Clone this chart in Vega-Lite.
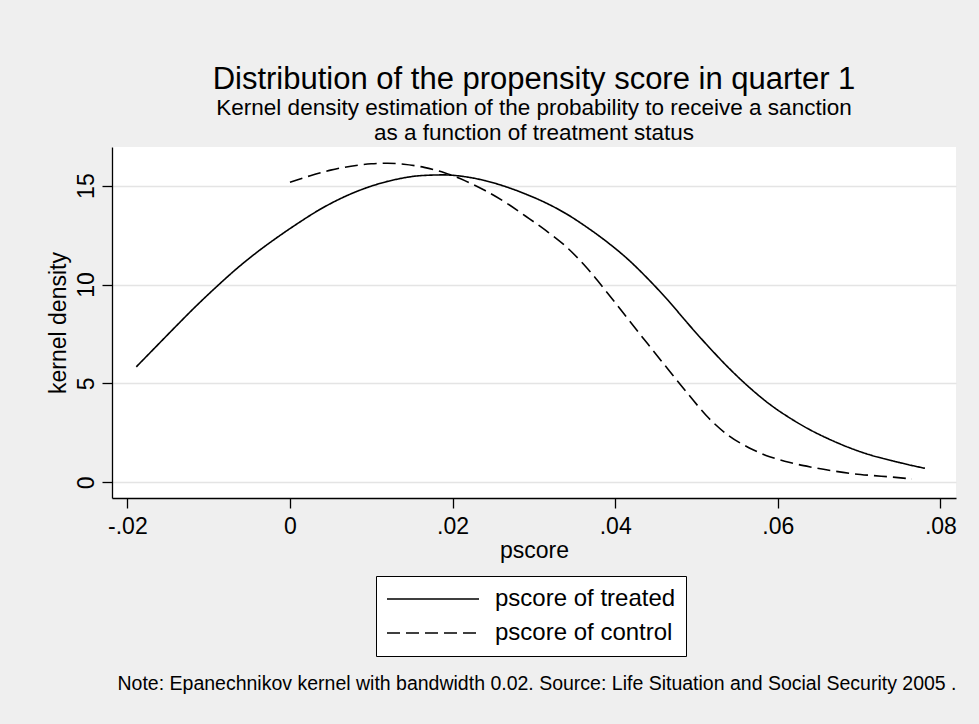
{
  "$schema": "https://vega.github.io/schema/vega-lite/v6.json",
  "autosize": {"type": "none"},
  "width": 844,
  "height": 351,
  "padding": {"left": 112, "top": 147, "right": 23, "bottom": 226},
  "background": "#efefef",
  "config": {"view": {"fill": "white", "stroke": null}, "font": "Liberation Sans"},
  "title": {
    "text": "Distribution of the propensity score in quarter 1",
    "subtitle": ["Kernel density estimation of the probability to receive a sanction", "as a function of treatment status"],
    "font": "Liberation Sans",
    "subtitleFont": "Liberation Sans",
    "fontSize": 31,
    "fontWeight": "normal",
    "color": "black",
    "subtitleFontSize": 22.5,
    "subtitleColor": "black",
    "subtitlePadding": 1,
    "subtitleLineHeight": 25,
    "anchor": "middle",
    "frame": "group",
    "offset": 2
  },
  "data": {"values": [
    {"x": -0.0189, "d": 5.84, "g": "pscore of treated"},
    {"x": -0.0165, "d": 6.85, "g": "pscore of treated"},
    {"x": -0.0140, "d": 7.9, "g": "pscore of treated"},
    {"x": -0.0115, "d": 8.93, "g": "pscore of treated"},
    {"x": -0.0090, "d": 9.9, "g": "pscore of treated"},
    {"x": -0.0065, "d": 10.82, "g": "pscore of treated"},
    {"x": -0.0040, "d": 11.65, "g": "pscore of treated"},
    {"x": -0.0015, "d": 12.4, "g": "pscore of treated"},
    {"x": 0.0010, "d": 13.1, "g": "pscore of treated"},
    {"x": 0.0035, "d": 13.75, "g": "pscore of treated"},
    {"x": 0.0060, "d": 14.3, "g": "pscore of treated"},
    {"x": 0.0085, "d": 14.75, "g": "pscore of treated"},
    {"x": 0.0110, "d": 15.1, "g": "pscore of treated"},
    {"x": 0.0135, "d": 15.35, "g": "pscore of treated"},
    {"x": 0.0160, "d": 15.5, "g": "pscore of treated"},
    {"x": 0.0189, "d": 15.54, "g": "pscore of treated"},
    {"x": 0.0215, "d": 15.45, "g": "pscore of treated"},
    {"x": 0.0240, "d": 15.25, "g": "pscore of treated"},
    {"x": 0.0265, "d": 14.95, "g": "pscore of treated"},
    {"x": 0.0290, "d": 14.57, "g": "pscore of treated"},
    {"x": 0.0315, "d": 14.12, "g": "pscore of treated"},
    {"x": 0.0340, "d": 13.57, "g": "pscore of treated"},
    {"x": 0.0365, "d": 12.9, "g": "pscore of treated"},
    {"x": 0.0390, "d": 12.15, "g": "pscore of treated"},
    {"x": 0.0415, "d": 11.3, "g": "pscore of treated"},
    {"x": 0.0440, "d": 10.3, "g": "pscore of treated"},
    {"x": 0.0465, "d": 9.2, "g": "pscore of treated"},
    {"x": 0.0490, "d": 8.0, "g": "pscore of treated"},
    {"x": 0.0515, "d": 6.85, "g": "pscore of treated"},
    {"x": 0.0540, "d": 5.77, "g": "pscore of treated"},
    {"x": 0.0565, "d": 4.8, "g": "pscore of treated"},
    {"x": 0.0590, "d": 3.95, "g": "pscore of treated"},
    {"x": 0.0615, "d": 3.25, "g": "pscore of treated"},
    {"x": 0.0640, "d": 2.65, "g": "pscore of treated"},
    {"x": 0.0665, "d": 2.15, "g": "pscore of treated"},
    {"x": 0.0690, "d": 1.72, "g": "pscore of treated"},
    {"x": 0.0715, "d": 1.37, "g": "pscore of treated"},
    {"x": 0.0740, "d": 1.1, "g": "pscore of treated"},
    {"x": 0.0760, "d": 0.9, "g": "pscore of treated"},
    {"x": 0.0781, "d": 0.71, "g": "pscore of treated"},
    {"x": 0.0000, "d": 15.17, "g": "pscore of control"},
    {"x": 0.0025, "d": 15.5, "g": "pscore of control"},
    {"x": 0.0050, "d": 15.78, "g": "pscore of control"},
    {"x": 0.0075, "d": 15.98, "g": "pscore of control"},
    {"x": 0.0100, "d": 16.1, "g": "pscore of control"},
    {"x": 0.0120, "d": 16.13, "g": "pscore of control"},
    {"x": 0.0140, "d": 16.08, "g": "pscore of control"},
    {"x": 0.0165, "d": 15.92, "g": "pscore of control"},
    {"x": 0.0190, "d": 15.65, "g": "pscore of control"},
    {"x": 0.0215, "d": 15.25, "g": "pscore of control"},
    {"x": 0.0240, "d": 14.75, "g": "pscore of control"},
    {"x": 0.0265, "d": 14.15, "g": "pscore of control"},
    {"x": 0.0290, "d": 13.45, "g": "pscore of control"},
    {"x": 0.0315, "d": 12.72, "g": "pscore of control"},
    {"x": 0.0340, "d": 11.9, "g": "pscore of control"},
    {"x": 0.0365, "d": 10.85, "g": "pscore of control"},
    {"x": 0.0390, "d": 9.6, "g": "pscore of control"},
    {"x": 0.0415, "d": 8.3, "g": "pscore of control"},
    {"x": 0.0440, "d": 7.0, "g": "pscore of control"},
    {"x": 0.0465, "d": 5.72, "g": "pscore of control"},
    {"x": 0.0490, "d": 4.45, "g": "pscore of control"},
    {"x": 0.0515, "d": 3.25, "g": "pscore of control"},
    {"x": 0.0540, "d": 2.35, "g": "pscore of control"},
    {"x": 0.0565, "d": 1.74, "g": "pscore of control"},
    {"x": 0.0590, "d": 1.3, "g": "pscore of control"},
    {"x": 0.0615, "d": 1.0, "g": "pscore of control"},
    {"x": 0.0640, "d": 0.78, "g": "pscore of control"},
    {"x": 0.0665, "d": 0.6, "g": "pscore of control"},
    {"x": 0.0690, "d": 0.45, "g": "pscore of control"},
    {"x": 0.0715, "d": 0.35, "g": "pscore of control"},
    {"x": 0.0740, "d": 0.27, "g": "pscore of control"},
    {"x": 0.0765, "d": 0.17, "g": "pscore of control"}
  ]},
  "layer": [
    {
      "mark": {"type": "line", "color": "black", "strokeWidth": 1.6, "interpolate": "monotone"},
      "encoding": {
        "x": {
          "field": "x", "type": "quantitative",
          "scale": {"domain": [-0.02189, 0.08192], "nice": false, "zero": false},
          "axis": {
            "title": "pscore",
            "values": [-0.02, 0, 0.02, 0.04, 0.06, 0.08],
            "labelExpr": "datum.value == 0 ? '0' : (datum.value < 0 ? '-' : '') + '.' + format(round(abs(datum.value)*100), '02d')",
            "grid": false,
            "domainColor": "black", "domainWidth": 1.3,
            "tickColor": "black", "tickSize": 10, "tickWidth": 1.3,
            "labelFontSize": 23, "labelColor": "black", "labelPadding": 7, "labelFlush": false,
            "titleFontSize": 23, "titleFontWeight": "normal", "titleColor": "black", "titlePadding": 1
          }
        },
        "y": {
          "field": "d", "type": "quantitative",
          "scale": {"domain": [-0.79, 16.95], "nice": false, "zero": false},
          "axis": {
            "title": "kernel density",
            "values": [0, 5, 10, 15],
            "grid": true, "gridColor": "#e4e4e4", "gridWidth": 1.5,
            "domainColor": "black", "domainWidth": 1.3,
            "tickColor": "black", "tickSize": 10, "tickWidth": 1.3,
            "labelAngle": -90, "labelAlign": "center", "labelBaseline": "alphabetic",
            "labelPadding": 9, "labelFontSize": 23, "labelColor": "black",
            "titleFontSize": 23, "titleFontWeight": "normal", "titleColor": "black", "titlePadding": 5
          }
        },
        "strokeDash": {
          "field": "g", "type": "nominal",
          "scale": {"domain": ["pscore of treated", "pscore of control"], "range": [[1, 0], [13, 6]]},
          "legend": {
            "orient": "none", "legendX": 264, "legendY": 429,
            "title": null,
            "fillColor": "white", "strokeColor": "black", "padding": 10,
            "symbolType": "stroke", "symbolSize": 8464, "symbolStrokeWidth": 1.6, "symbolStrokeColor": "black",
            "labelFontSize": 24, "labelColor": "black", "labelOffset": 15, "labelLimit": 400,
            "clipHeight": 26, "rowPadding": 8
          }
        }
      }
    },
    {
      "mark": {"type": "point", "opacity": 0},
      "encoding": {
        "x": {
          "field": "x", "type": "quantitative",
          "axis": {
            "orient": "bottom",
            "title": "Note: Epanechnikov kernel with bandwidth 0.02. Source:  Life Situation and Social Security 2005 .",
            "domain": false, "ticks": false, "labels": false, "grid": false,
            "titleFontSize": 19.5, "titleFontWeight": "normal", "titleColor": "black",
            "titleAnchor": "start", "titleAlign": "left", "titleBaseline": "middle",
            "titleX": 5, "titleY": 185
          }
        },
        "y": {"field": "d", "type": "quantitative"}
      }
    }
  ],
  "resolve": {"axis": {"x": "independent"}}
}
